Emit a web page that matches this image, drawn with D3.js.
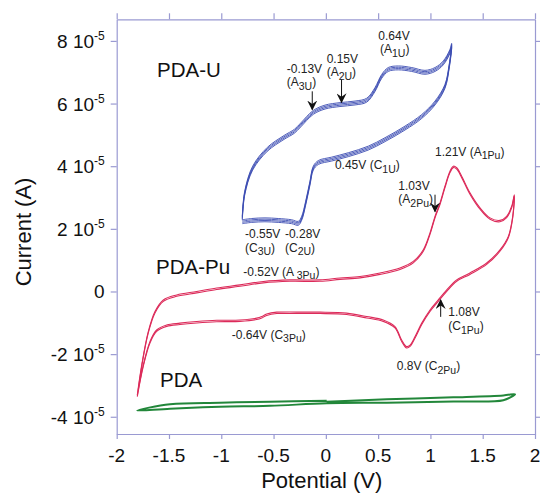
<!DOCTYPE html>
<html><head><meta charset="utf-8">
<script src="https://cdn.jsdelivr.net/npm/d3@7"></script>
<style>
html,body{margin:0;padding:0;background:#fff;}
svg{display:block;font-family:"Liberation Sans",Arial,sans-serif;}
</style></head>
<body><svg id="chart" width="540" height="496"></svg>
<script>
// ---------- DATA (current in units of 1e-5 A, potential in V) ----------
const xTicks = [-2, -1.5, -1, -0.5, 0, 0.5, 1, 1.5, 2];
const xTickLabels = ["-2", "-1.5", "-1", "-0.5", "0", "0.5", "1", "1.5", "2"];
const yTicks = [-4, -2, 0, 2, 4, 6, 8];
const yTickMantissa = ["-4", "-2", "0", "2", "4", "6", "8"];
const yTickExponent = "-5";

// PDA-U (blue) anodic sweep then cathodic sweep
const puAnodicU = [[-0.799,2.40],[-0.776,3.20],[-0.700,4.00],[-0.560,4.60],[-0.400,4.98],[-0.300,5.18],[-0.240,5.38],[-0.120,5.78],[-0.008,5.95],[0.135,6.03],[0.279,6.08],[0.391,6.17],[0.470,6.51],[0.534,6.93],[0.597,7.15],[0.693,7.20],[0.821,7.15],[0.948,7.06],[1.044,7.15],[1.123,7.36],[1.187,7.73],[1.203,7.92]];
const puCathodicU = [[1.203,7.92],[1.180,7.26],[1.139,6.61],[1.044,6.08],[0.917,5.65],[0.757,5.28],[0.566,4.91],[0.406,4.64],[0.215,4.43],[0.056,4.29],[-0.072,4.18],[-0.120,4.00],[-0.152,3.52],[-0.193,2.88],[-0.231,2.40],[-0.263,2.24],[-0.327,2.29],[-0.455,2.33],[-0.582,2.35],[-0.709,2.33],[-0.799,2.29]];

// PDA-Pu (red)
const pdaPuAnodic = [[-1.803,-3.31],[-1.761,-2.35],[-1.698,-1.28],[-1.634,-0.64],[-1.554,-0.27],[-1.426,-0.11],[-1.235,0.00],[-1.044,0.11],[-0.821,0.21],[-0.598,0.32],[-0.343,0.37],[-0.056,0.37],[0.135,0.43],[0.327,0.48],[0.518,0.59],[0.709,0.75],[0.836,0.96],[0.932,1.33],[0.996,1.87],[1.044,2.40],[1.092,2.83],[1.139,3.36],[1.187,3.84],[1.219,4.00],[1.251,3.95],[1.299,3.68],[1.378,3.15],[1.474,2.67],[1.570,2.35],[1.665,2.27],[1.729,2.40],[1.777,2.72],[1.802,3.09]];
const pdaPuCathodic = [[1.802,3.09],[1.787,2.40],[1.745,1.76],[1.665,1.33],[1.538,0.91],[1.378,0.59],[1.251,0.37],[1.156,0.05],[1.075,-0.27],[0.996,-0.59],[0.917,-1.01],[0.853,-1.44],[0.805,-1.71],[0.773,-1.76],[0.725,-1.55],[0.661,-1.12],[0.549,-0.91],[0.391,-0.80],[0.199,-0.69],[-0.056,-0.66],[-0.279,-0.66],[-0.470,-0.66],[-0.566,-0.72],[-0.613,-0.80],[-0.661,-0.85],[-0.821,-0.91],[-1.044,-0.92],[-1.235,-0.96],[-1.395,-1.01],[-1.522,-1.07],[-1.618,-1.23],[-1.682,-1.60],[-1.746,-2.35],[-1.803,-3.31]];

// PDA (green)
const pdaAnodic = [[0.008,-3.52],[0.582,-3.44],[1.219,-3.38],[1.697,-3.32],[1.809,-3.28]];
const pdaCathodic = [[1.809,-3.28],[1.697,-3.47],[1.219,-3.51],[0.582,-3.55],[0.008,-3.57],[-0.534,-3.65],[-1.012,-3.68],[-1.490,-3.74],[-1.803,-3.80]];
const pdaReturn = [[-1.803,-3.80],[-1.490,-3.60],[-1.012,-3.55],[-0.534,-3.52],[0.008,-3.49]];

// sample names
const sampleLabels = [
  {text:"PDA-U",  v:-1.614, i:6.84},
  {text:"PDA-Pu", v:-1.624, i:0.56},
  {text:"PDA",    v:-1.586, i:-3.06}
];
// peak annotations
const peakLabels = [
  {main:"0.64V", sub:"", v:0.502, i:8.04},
  {main:"(A", sub:"1U", end:")", v:0.518, i:7.61},
  {main:"-0.13V", sub:"", v:-0.374, i:6.98},
  {main:"(A", sub:"3U", end:")", v:-0.374, i:6.55},
  {main:"0.15V", sub:"", v:0.008, i:7.30},
  {main:"(A", sub:"2U", end:")", v:0.008, i:6.87},
  {main:"0.45V (C", sub:"1U", end:")", v:0.087, i:3.91},
  {main:"1.21V (A", sub:"1Pu", end:")", v:1.044, i:4.34},
  {main:"1.03V", sub:"", v:0.693, i:3.25},
  {main:"(A", sub:"2Pu", end:")", v:0.693, i:2.81},
  {main:"1.08V", sub:"", v:1.171, i:-0.79},
  {main:"(C", sub:"1Pu", end:")", v:1.171, i:-1.23},
  {main:"0.8V (C", sub:"2Pu", end:")", v:0.678, i:-2.51},
  {main:"-0.64V (C", sub:"3Pu", end:")", v:-0.900, i:-1.51},
  {main:"-0.52V (A ", sub:"3Pu", end:")", v:-0.789, i:0.50},
  {main:"-0.55V", sub:"", v:-0.773, i:1.70},
  {main:"(C", sub:"3U", end:")", v:-0.773, i:1.27},
  {main:"-0.28V", sub:"", v:-0.391, i:1.70},
  {main:"(C", sub:"2U", end:")", v:-0.391, i:1.27}
];
// arrows: from (v, iTail) to (v, iTip)
const peakArrows = [
  {v:-0.130, iTail:6.39, iTip:5.81},
  {v:0.150, iTail:6.77, iTip:6.04},
  {v:1.044, iTail:3.09, iTip:2.55},
  {v:1.098, iTail:-0.81, iTip:-0.27}
];

// ---------- DRAW ----------
const svg = d3.select("#chart");
const W = 540, H = 496;
const mLeft = 116.7, mRight = 535, mTop = 19.3, mBottom = 434;
const x = d3.scaleLinear().domain([-2, 2]).range([mLeft, mRight]);
const y = d3.scaleLinear().domain([-4.55, 8.69]).range([mBottom, mTop]);
const axisColor = "#9a9ad2";

svg.append("rect").attr("width", W).attr("height", H).attr("fill", "#fff");

function styleAxis(g){
  g.selectAll("path").attr("stroke", axisColor).attr("stroke-width", 1.2);
  g.selectAll("line").attr("stroke", axisColor).attr("stroke-width", 1.2);
  g.selectAll("text").remove();
}
svg.append("g").attr("transform", `translate(0,${mBottom})`)
  .call(d3.axisBottom(x).tickValues(xTicks).tickSize(5).tickSizeOuter(0)).call(styleAxis);
svg.append("g").attr("transform", `translate(0,${mTop})`)
  .call(d3.axisTop(x).tickValues(xTicks).tickSize(6).tickSizeOuter(0)).call(styleAxis);
svg.append("g").attr("transform", `translate(${mLeft},0)`)
  .call(d3.axisLeft(y).tickValues(yTicks).tickSize(6).tickSizeOuter(0)).call(styleAxis);
svg.append("g").attr("transform", `translate(${mRight},0)`)
  .call(d3.axisRight(y).tickValues(yTicks).tickSize(6).tickSizeOuter(0)).call(styleAxis);

// tick labels
const tickFont = 19;
svg.append("g").selectAll("text").data(xTicks).join("text")
  .attr("x", d => x(d)).attr("y", mBottom + 27.5)
  .attr("text-anchor", "middle").attr("font-size", tickFont).attr("fill", "#111")
  .text((d, k) => xTickLabels[k]);
const yl = svg.append("g").selectAll("text").data(yTicks).join("text")
  .attr("x", mLeft - 12).attr("y", d => y(d) + 7)
  .attr("text-anchor", "end").attr("font-size", tickFont).attr("fill", "#111");
yl.each(function(d, k){
  const t = d3.select(this);
  if (d === 0) { t.text("0"); return; }
  t.append("tspan").text(yTickMantissa[k] + " 10");
  t.append("tspan").attr("dy", -8).attr("font-size", 12).text(yTickExponent);
});

// axis titles
svg.append("text").attr("x", 321.7).attr("y", 488).attr("text-anchor", "middle")
  .attr("font-size", 22).attr("fill", "#111").text("Potential (V)");
svg.append("text").attr("transform", `translate(31,${y(1.9)}) rotate(-90)`)
  .attr("text-anchor", "middle").attr("font-size", 22).attr("fill", "#111").text("Current (A)");

// curves
const line = d3.line().x(d => x(d[0])).y(d => y(d[1])).curve(d3.curveCatmullRom.alpha(0.5));
const blueLoop = puAnodicU.concat(puCathodicU.slice(1));
[0, 1.3, 2.6, 3.9].forEach(off => {
  svg.append("path").attr("d", line(blueLoop)).attr("transform", `translate(0,${off})`)
    .attr("fill", "none").attr("stroke", "#3b4cb2").attr("stroke-width", 0.9);
});
const redLoop = pdaPuAnodic.concat(pdaPuCathodic.slice(1));
[0, 1.4].forEach(off => {
  svg.append("path").attr("d", line(redLoop)).attr("transform", `translate(0,${off})`)
    .attr("fill", "none").attr("stroke", "#dc2b5a").attr("stroke-width", 1.1);
});
const greenLoop = pdaAnodic.concat(pdaCathodic.slice(1), pdaReturn.slice(1));
svg.append("path").attr("d", line(greenLoop))
  .attr("fill", "none").attr("stroke", "#22873a").attr("stroke-width", 2);

// sample labels
svg.append("g").selectAll("text").data(sampleLabels).join("text")
  .attr("x", d => x(d.v)).attr("y", d => y(d.i))
  .attr("font-size", 20.5).attr("fill", "#111").text(d => d.text);

// peak labels
const pl = svg.append("g").selectAll("text").data(peakLabels).join("text")
  .attr("x", d => x(d.v)).attr("y", d => y(d.i))
  .attr("font-size", 12).attr("fill", "#222");
pl.each(function(d){
  const t = d3.select(this);
  t.append("tspan").text(d.main);
  if (d.sub) {
    t.append("tspan").attr("dy", 3.5).attr("font-size", 10.5).text(d.sub);
    t.append("tspan").attr("dy", -3.5).text(d.end);
  }
});

// arrows
const defs = svg.append("defs");
defs.append("marker").attr("id", "ah").attr("viewBox", "0 0 10 10")
  .attr("refX", 9).attr("refY", 5).attr("markerWidth", 10).attr("markerHeight", 10)
  .attr("markerUnits", "userSpaceOnUse").attr("orient", "auto")
  .append("path").attr("d", "M0,0 L10,5 L0,10 L3.5,5 Z").attr("fill", "#111");
svg.append("g").selectAll("line").data(peakArrows).join("line")
  .attr("x1", d => x(d.v)).attr("x2", d => x(d.v))
  .attr("y1", d => y(d.iTail)).attr("y2", d => y(d.iTip))
  .attr("stroke", "#111").attr("stroke-width", 1).attr("marker-end", "url(#ah)");
</script></body></html>
